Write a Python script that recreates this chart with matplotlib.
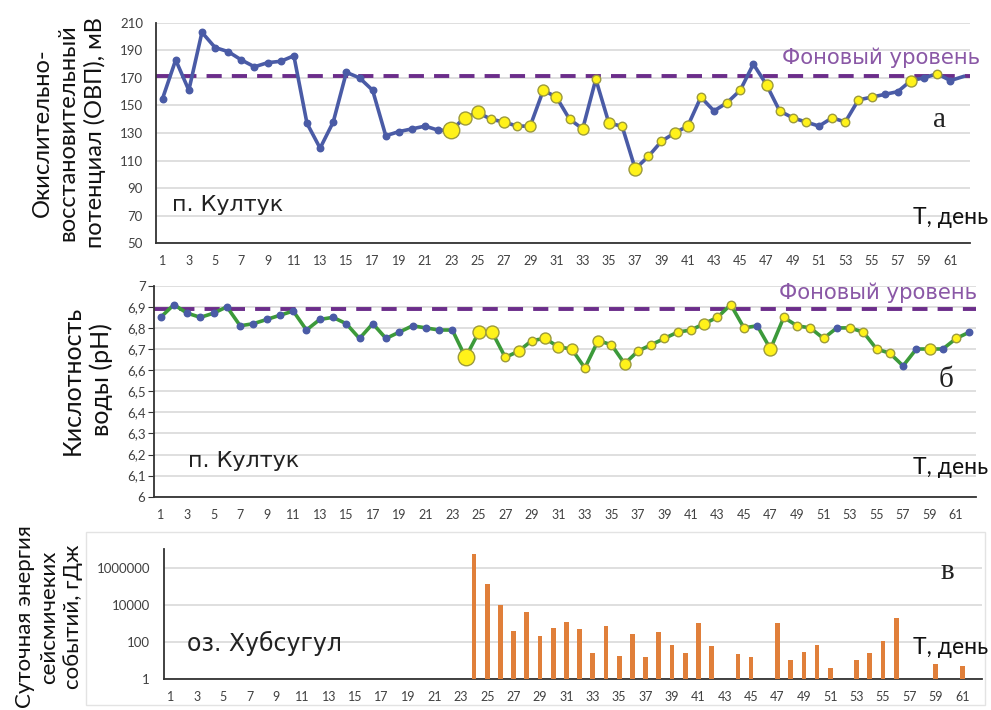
import numpy as np
import matplotlib
matplotlib.use("Agg")
import matplotlib.pyplot as plt
from matplotlib.patches import Rectangle

# ---------------- data ----------------
days = list(range(1, 63))

# redox potential, mV (п. Култук)
ovp = [155, 183, 161, 203, 192, 189, 183, 178, 181, 182,
       186, 137, 119, 138, 174, 170, 161, 128, 131, 133,
       135, 132, 132, 141, 145, 140, 138, 135, 135, 161,
       156, 140, 133, 169, 137, 135, 104, 113, 124, 130,
       135, 156, 146, 152, 161, 180, 165, 146, 141, 138,
       135, 141, 138, 154, 156, 158, 160, 168, 170, 173,
       168, 171]
ovp_background = 171

# water acidity, pH (п. Култук)
ph = [6.85, 6.91, 6.87, 6.85, 6.87, 6.90, 6.81, 6.82, 6.84, 6.86,
      6.88, 6.79, 6.84, 6.85, 6.82, 6.75, 6.82, 6.75, 6.78, 6.81,
      6.80, 6.79, 6.79, 6.66, 6.78, 6.78, 6.66, 6.69, 6.74, 6.75,
      6.71, 6.70, 6.61, 6.74, 6.72, 6.63, 6.69, 6.72, 6.75, 6.78,
      6.79, 6.82, 6.85, 6.91, 6.80, 6.81, 6.70, 6.85, 6.81, 6.80,
      6.75, 6.80, 6.80, 6.78, 6.70, 6.68, 6.62, 6.70, 6.70, 6.70,
      6.75, 6.78]
ph_background = 6.89

# daily energy of seismic events, GJ (оз. Хубсугул); 0 = no events
energy = [0] * 23 + [
    5.5e6, 1.3e5, 1.0e4, 390, 3900, 210, 590, 1200, 500, 24,
    680, 16, 250, 14, 330, 70, 24, 1000, 58, 0,
    21, 14, 0, 1000, 9, 28, 70, 2.7, 0, 9,
    24, 105, 1900, 0, 0, 5.7, 0, 4.3, 0]

xtick_days = list(range(1, 62, 2))
ovp_ticks = list(range(50, 211, 20))
ph_ticks = [6.0, 6.1, 6.2, 6.3, 6.4, 6.5, 6.6, 6.7, 6.8, 6.9, 7.0]
energy_ticks = [1, 100, 10000, 1000000]

# ---------------- marker styles ----------------
# b = regular day, s/m/M/L = days with seismic activity (growing marker size)
ovp_marks = ("b" * 22 + "LMMsmsmmmsmsmsMssmms" + "bssbmsssbssssbbmbsb")[:62]
ph_marks = ("b" * 23 + "LMMsmsmmmsmsmsssssms" + "ssbMssssbssssbbmbsb")[:62]
SIZE_PX = {"b": 6.5, "s": 8.5, "m": 11, "M": 13, "L": 16.5}

W, H = 991, 710
DPI = 100
fig = plt.figure(figsize=(W / DPI, H / DPI), dpi=DPI)
fig.patch.set_facecolor("white")

BLUE = "#4a5ba6"
GREEN = "#3c9a3a"
YELLOW = "#fff21a"
YEDGE = "#9c9a3c"
PURPLE = "#6b2d8a"
PURPLE_TXT = "#8a58a6"
ORANGE = "#e07f3a"
GRID = "#d9d9d9"
TICK = "#404040"
FONT = "Lato"
WIDE = "DejaVu Sans"
DASH = (0, (3.9, 2.6))


def ax_rect(l, t, r, b):
    return [l / W, 1 - b / H, (r - l) / W, (b - t) / H]


def fpos(x, y):
    return x / W, 1 - y / H


def px2pt(p):
    return p * 72 / DPI


def style_axes(ax, ticks, labels, pad_px, ticklen=0):
    ax.set_xlim(0.5, 62.5)
    ax.set_xticks(xtick_days)
    ax.set_xticklabels([str(d) for d in xtick_days], fontsize=9, color=TICK, family=FONT)
    ax.tick_params(axis="x", length=0, pad=px2pt(12))
    ax.set_yticks(ticks)
    ax.set_yticklabels(labels, fontsize=9.5, color=TICK, family=FONT)
    ax.tick_params(axis="y", length=ticklen, pad=px2pt(pad_px), color="#333333")
    ax.grid(axis="y", color=GRID, linewidth=1.2)
    ax.set_axisbelow(True)
    for s in ("top", "right"):
        ax.spines[s].set_visible(False)
    ax.spines["left"].set_color("#333333")
    ax.spines["bottom"].set_color("#333333")
    ax.spines["left"].set_linewidth(1.3)
    ax.spines["bottom"].set_linewidth(1.3)


def draw_series(ax, values, marks, line_color):
    ax.plot(days, values, color=line_color, lw=2.6, zorder=3, solid_joinstyle="round")
    for d, v, m in zip(days, values, marks):
        if m == "b":
            ax.plot(d, v, "o", ms=px2pt(SIZE_PX[m]), mfc=BLUE, mec=BLUE, zorder=4)
        else:
            ax.plot(d, v, "o", ms=px2pt(SIZE_PX[m]), mfc=YELLOW, mec=YEDGE,
                    mew=1.0, zorder=5)


# ---------------- (а) redox potential ----------------
ax1 = fig.add_axes(ax_rect(156, 22.7, 970, 243.3))
style_axes(ax1, ovp_ticks, [str(t) for t in ovp_ticks], 13)
ax1.set_ylim(50, 210)
ax1.axhline(ovp_background, color=PURPLE, lw=2.8, ls=DASH, zorder=2)
draw_series(ax1, ovp, ovp_marks, BLUE)

# ---------------- (б) pH ----------------
ax2 = fig.add_axes(ax_rect(154, 285.7, 976, 496.7))
style_axes(ax2, ph_ticks, [("%.1f" % t).replace(".", ",").replace(",0", "") for t in ph_ticks], 3, ticklen=4)
ax2.set_ylim(6.0, 7.0)
ax2.axhline(ph_background, color=PURPLE, lw=2.8, ls=DASH, zorder=2)
draw_series(ax2, ph, ph_marks, GREEN)

# ---------------- (в) seismic energy ----------------
ax3 = fig.add_axes(ax_rect(164, 549, 982, 679))
ax3.set_yscale("log")
style_axes(ax3, energy_ticks, [str(t) for t in energy_ticks], 14)
ax3.yaxis.set_minor_locator(matplotlib.ticker.NullLocator())
ax3.set_ylim(1, 1e7)
ev_days = [d for d, e in zip(days, energy) if e > 0]
ev_vals = [e for e in energy if e > 0]
ax3.bar(ev_days, ev_vals, width=0.36, bottom=1, color=ORANGE, zorder=3)

# light frame around the lower chart
fig.patches.append(Rectangle(fpos(86, 705), (985 - 86) / W, (705 - 532) / H,
                             transform=fig.transFigure, fill=False,
                             edgecolor="#e3e3e3", lw=1.0))

# ---------------- axis titles ----------------
fig.text(*fpos(69, 133), "Окислительно-\nвосстановительный\nпотенциал (ОВП), мВ",
         rotation=90, ha="center", va="center", multialignment="center",
         fontsize=17, family=FONT, color="#111111", linespacing=1.3)
fig.text(*fpos(87, 380), "Кислотность\nводы (pH)",
         rotation=90, ha="center", va="center", multialignment="center",
         fontsize=18, family=FONT, color="#111111", linespacing=1.3)
fig.text(*fpos(49, 617), "Суточная энергия\nсейсмичеких\nсобытий, гДж",
         rotation=90, ha="center", va="center", multialignment="center",
         fontsize=16, family=FONT, color="#111111", linespacing=1.25)

# ---------------- annotations ----------------
for (x, y), s, fs in [((172, 205), "п. Култук", 16), ((188, 461), "п. Култук", 16),
                      ((187, 643), "оз. Хубсугул", 17)]:
    fig.text(*fpos(x, y), s, ha="left", va="center", fontsize=fs,
             family=WIDE, color="#222222")

for y in (217, 468, 648):
    fig.text(*fpos(988, y), "Т, день", ha="right", va="center", fontsize=16.5,
             family=FONT, color="#111111")

for x, y in ((980, 58), (977, 293)):
    fig.text(*fpos(x, y), "Фоновый уровень", ha="right", va="center",
             fontsize=15.3, family=WIDE, color=PURPLE_TXT)

for (x, y), s in [((940, 120), "а"), ((946, 380), "б"), ((947, 572), "в")]:
    fig.text(*fpos(x, y), s, ha="center", va="center", fontsize=21,
             family="Liberation Serif", color="#222222")

fig.savefig("out.png", dpi=DPI, facecolor="white")
